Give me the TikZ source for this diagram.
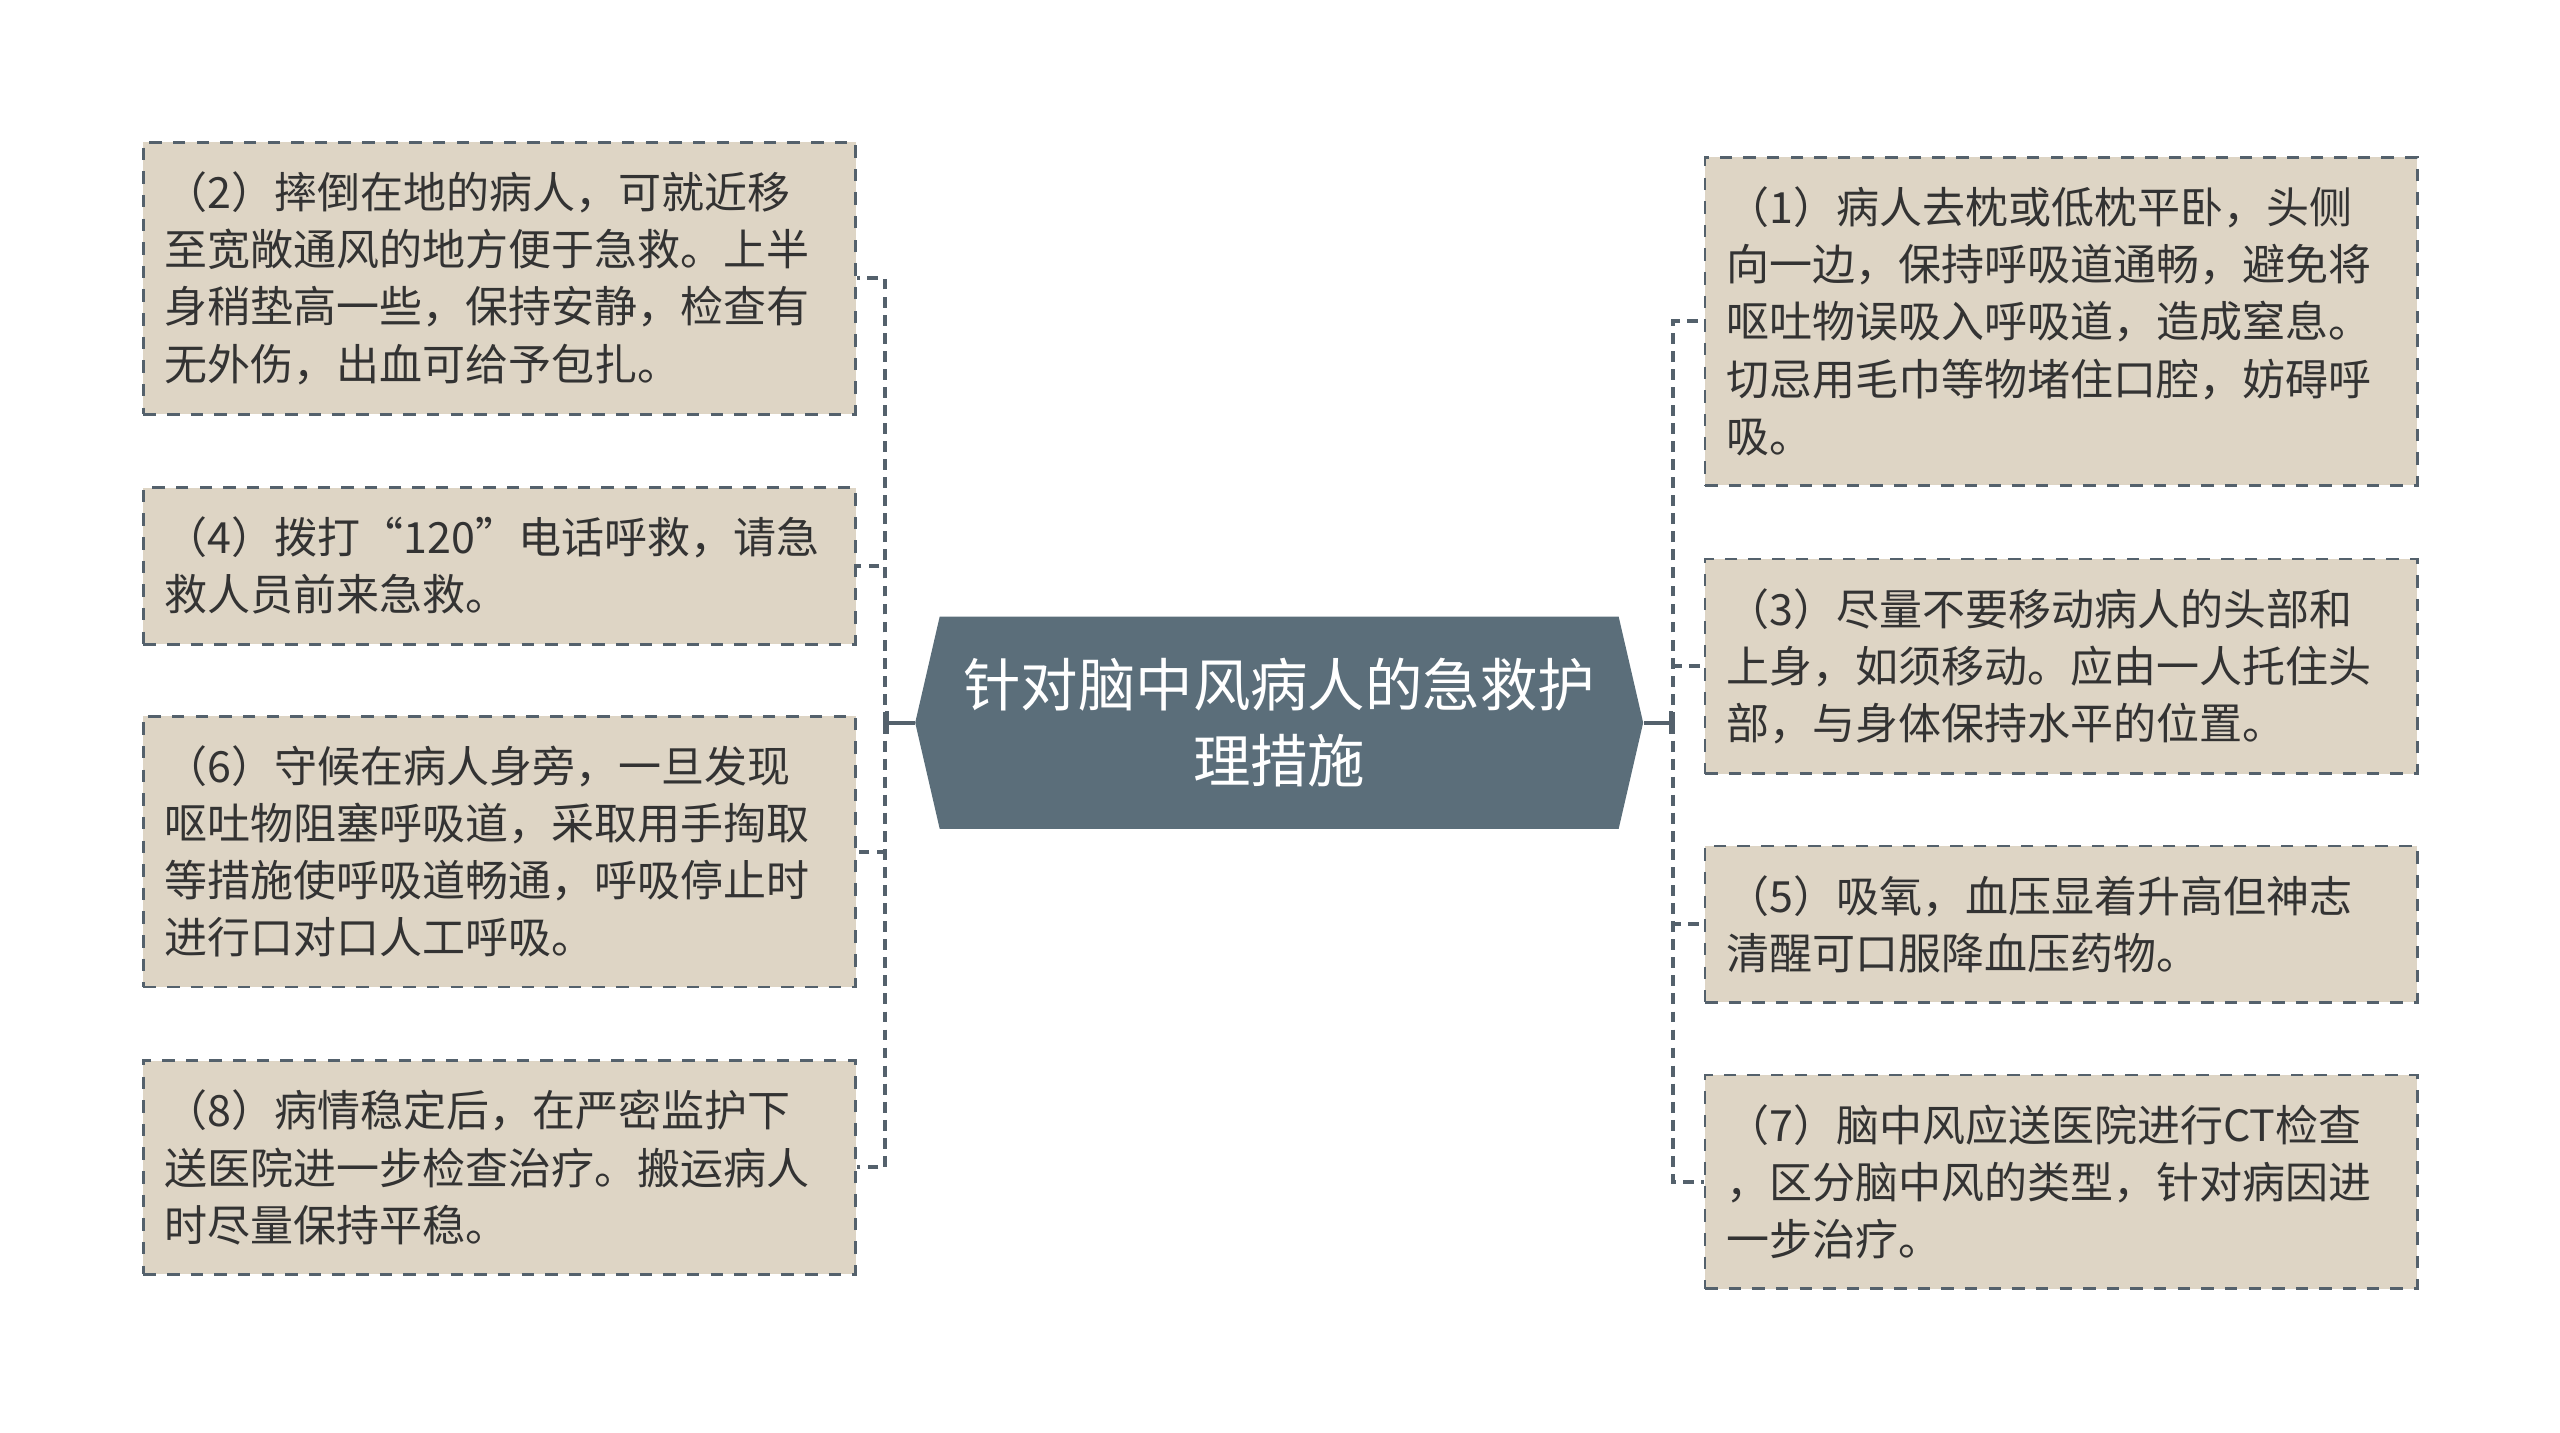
\documentclass[tikz,border=0pt]{standalone}
\usepackage{fontspec}
\setmainfont{Noto Sans CJK SC}
\usetikzlibrary{shapes.symbols,arrows.meta}
\definecolor{rootfill}{RGB}{91,110,122}
\definecolor{leaffill}{RGB}{222,213,197}
\definecolor{edgecol}{RGB}{84,97,108}
\definecolor{textcol}{RGB}{51,51,51}
\tikzset{
  leaf/.style={draw=edgecol, line width=0.85pt, dash pattern=on 3.8pt off 3.4pt,
    fill=leaffill, text=textcol, text width=204pt, align=left,
    inner xsep=6.5pt, inner ysep=9pt, minimum width=217pt,
    font=\fontsize{13.1pt}{17.4pt}\selectfont},
  link/.style={draw=edgecol, line width=1.2pt, dash pattern=on 3.3pt off 2.2pt},
  stem/.style={draw=edgecol, line width=1.2pt},
  root/.style={shape=signal, signal to=west and east, signal pointer angle=154,
    fill=rootfill, text=white, minimum width=221.8pt, minimum height=64.7pt,
    align=center, font=\fontsize{17.5pt}{23pt}\selectfont}
}
\begin{document}
\begin{tikzpicture}[x=0.5pt,y=-0.5pt]
  \useasboundingbox (0,0) rectangle (1560,873);
  \node[root] (root) at (779.5,440.4) {针对脑中风病人的急救护\\理措施};
  % left side
  \node[leaf] (b2) at (304.4,169.6) {（2）摔倒在地的病人，可就近移\\至宽敞通风的地方便于急救。上半\\身稍垫高一些，保持安静，检查有\\无外伤，出血可给予包扎。};
  \node[leaf] (b4) at (304.4,344.8) {（4）拨打“120”电话呼救，请急\\救人员前来急救。};
  \node[leaf] (b6) at (304.4,518.9) {（6）守候在病人身旁，一旦发现\\呕吐物阻塞呼吸道，采取用手掏取\\等措施使呼吸道畅通，呼吸停止时\\进行口对口人工呼吸。};
  \node[leaf] (b8) at (304.4,711.4) {（8）病情稳定后，在严密监护下\\送医院进一步检查治疗。搬运病人\\时尽量保持平稳。};
  % right side
  \node[leaf] (b1) at (1256,195.8) {（1）病人去枕或低枕平卧，头侧\\向一边，保持呼吸道通畅，避免将\\呕吐物误吸入呼吸道，造成窒息。\\切忌用毛巾等物堵住口腔，妨碍呼\\吸。};
  \node[leaf] (b3) at (1256,406) {（3）尽量不要移动病人的头部和\\上身，如须移动。应由一人托住头\\部，与身体保持水平的位置。};
  \node[leaf] (b5) at (1256,563.2) {（5）吸氧，血压显着升高但神志\\清醒可口服降血压药物。};
  \node[leaf] (b7) at (1256,720.2) {（7）脑中风应送医院进行CT检查\\，区分脑中风的类型，针对病因进\\一步治疗。};
  \coordinate (jl) at (539.3,440.4);
  \coordinate (jr) at (1019.6,440.4);
  \draw[stem,-{Bar[width=7pt]}] (root.west) -- (jl);
  \draw[stem,-{Bar[width=7pt]}] (root.east) -- (jr);
  \foreach \b in {b2,b4,b6,b8}
    \draw[link] (jl) |- (\b.east);
  \foreach \b in {b1,b3,b5,b7}
    \draw[link] (jr) |- (\b.west);
\end{tikzpicture}
\end{document}
